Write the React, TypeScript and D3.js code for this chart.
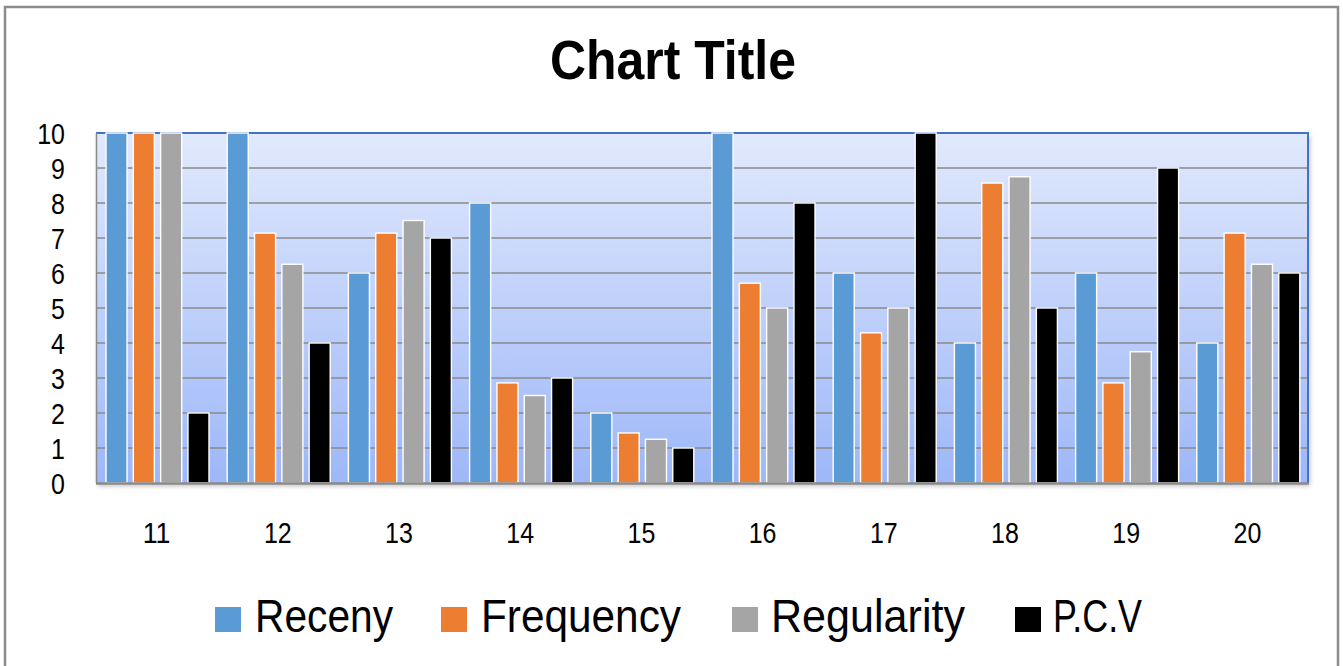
import React from "react";
import * as d3 from "d3";

const categories = ["11", "12", "13", "14", "15", "16", "17", "18", "19", "20"];
const seriesNames = ["Receny", "Frequency", "Regularity", "P.C.V"];
const receny = [10, 10, 6, 8, 2, 10, 6, 4, 6, 4];
const frequency = [10, 7.14, 7.14, 2.86, 1.43, 5.71, 4.29, 8.57, 2.86, 7.14];
const regularity = [10, 6.25, 7.5, 2.5, 1.25, 5, 5, 8.75, 3.75, 6.25];
const pcv = [2, 4, 7, 3, 1, 8, 10, 5, 9, 6];
const yTicks = [0, 1, 2, 3, 4, 5, 6, 7, 8, 9, 10];
const colors = ["#5b9bd5", "#ed7d31", "#a5a5a5", "#000000"];
const legendWidths = [138, 200, 194, 89];

const W = 1343;
const H = 666;
const plot = { left: 96, right: 1308, top: 133, bottom: 483 };
const FONT = "'Liberation Sans', Arial, sans-serif";

export default function App() {
  const series = [receny, frequency, regularity, pcv];
  const x0 = d3.scaleBand<string>().domain(categories).range([plot.left, plot.right]).padding(0);
  const x1 = d3
    .scaleBand<number>()
    .domain([0, 1, 2, 3])
    .range([10, 113])
    .paddingInner(0.23)
    .paddingOuter(0);
  const y = d3.scaleLinear().domain([0, 10]).range([plot.bottom, plot.top]);

  const legendX = [215, 441, 732, 1015];
  const legendTextX = [255, 481, 771, 1053];

  return (
    <svg
      width={W}
      height={H}
      style={{ position: "absolute", left: 0, top: 0, background: "#fff" }}
      xmlns="http://www.w3.org/2000/svg"
    >
      <defs>
        <linearGradient id="plotGrad" x1="0" y1="0" x2="0" y2="1">
          <stop offset="0%" stopColor="#e1e9fc" />
          <stop offset="100%" stopColor="#9db7f8" />
        </linearGradient>
        <filter id="shadow" x="-5%" y="-5%" width="110%" height="115%">
          <feDropShadow dx="2" dy="3" stdDeviation="2.5" floodColor="#000" floodOpacity="0.25" />
        </filter>
      </defs>
      <rect x={5} y={7} width={1333} height={720} fill="#fff" stroke="#8c8c8c" strokeWidth={2.5} />

      <text
        x={550}
        y={79}
        fontFamily={FONT}
        fontWeight="bold"
        fontSize={56}
        textLength={246}
        lengthAdjust="spacingAndGlyphs"
        fill="#000"
      >
        Chart Title
      </text>

      <rect
        x={plot.left}
        y={plot.top}
        width={plot.right - plot.left}
        height={plot.bottom - plot.top}
        fill="url(#plotGrad)"
        filter="url(#shadow)"
      />

      {yTicks
        .filter((t) => t > 0 && t < 10)
        .map((t) => (
          <line
            key={"g" + t}
            x1={plot.left}
            x2={plot.right}
            y1={y(t)}
            y2={y(t)}
            stroke="#8a8a8a"
            strokeWidth={1.6}
          />
        ))}

      <line x1={plot.left} x2={plot.right + 1} y1={plot.top} y2={plot.top} stroke="#4472c4" strokeWidth={2} />
      <line x1={plot.right} x2={plot.right} y1={plot.top} y2={plot.bottom} stroke="#4472c4" strokeWidth={2} />
      <line x1={plot.left + 0.5} x2={plot.left + 0.5} y1={plot.top} y2={plot.bottom} stroke="#8a8a8a" strokeWidth={1.5} />

      {categories.map((c, ci) => (
        <g key={c} transform={`translate(${x0(c)},0)`}>
          {series.map((s, si) => (
            <rect
              key={si}
              x={x1(si)}
              y={y(s[ci])}
              width={x1.bandwidth()}
              height={y(0) - y(s[ci])}
              fill={colors[si]}
              stroke="#ffffff"
              strokeWidth={1.4}
            />
          ))}
        </g>
      ))}

      <line x1={plot.left} x2={plot.right + 1} y1={plot.bottom + 0.5} y2={plot.bottom + 0.5} stroke="#8a8a8a" strokeWidth={2.5} />

      {yTicks.map((t) => {
        const label = String(t);
        return (
          <text
            key={"y" + t}
            x={65}
            y={y(t) + 10.5}
            textAnchor="end"
            fontFamily={FONT}
            fontSize={29}
            textLength={label.length * 13.9}
            lengthAdjust="spacingAndGlyphs"
            fill="#000"
          >
            {label}
          </text>
        );
      })}

      {categories.map((c) => (
        <text
          key={"x" + c}
          x={(x0(c) as number) + x0.bandwidth() / 2}
          y={543}
          textAnchor="middle"
          fontFamily={FONT}
          fontSize={29}
          textLength={c.length * 13.9}
          lengthAdjust="spacingAndGlyphs"
          fill="#000"
        >
          {c}
        </text>
      ))}

      {seriesNames.map((name, i) => (
        <g key={name}>
          <rect x={legendX[i]} y={607} width={26} height={25} fill={colors[i]} />
          <text
            x={legendTextX[i]}
            y={632}
            fontFamily={FONT}
            fontSize={46}
            textLength={legendWidths[i]}
            lengthAdjust="spacingAndGlyphs"
            fill="#000"
          >
            {name}
          </text>
        </g>
      ))}
    </svg>
  );
}
